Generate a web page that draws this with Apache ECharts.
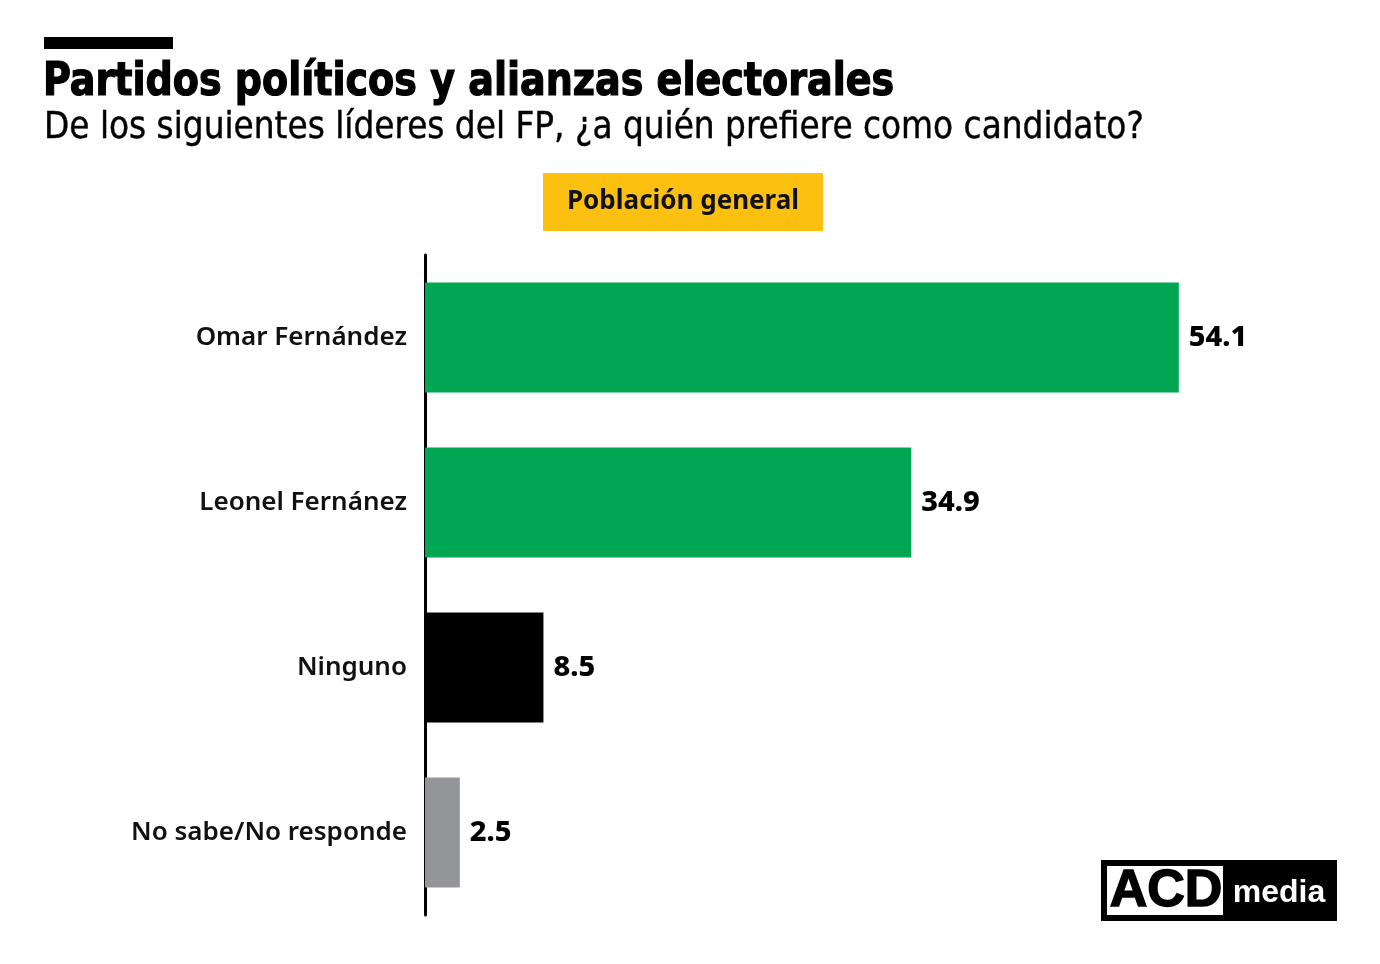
<!DOCTYPE html>
<html>
<head>
<meta charset="utf-8">
<script src="https://cdn.jsdelivr.net/npm/echarts@6/dist/echarts.min.js"></script>
<style>
  html, body { margin: 0; padding: 0; background: #fff; }
  #chart { width: 1380px; height: 964px; }
</style>
</head>
<body>
<div id="chart"></div>
<script>
// datos
var categorias = ['Omar Fernández', 'Leonel Fernánez', 'Ninguno', 'No sabe/No responde'];
var valores = [54.1, 34.9, 8.5, 2.5];
var colores = ['#00a651', '#00a651', '#000000', '#939598'];

var myChart = echarts.init(document.getElementById('chart'));
var fuente = '"Noto Sans", "Open Sans", sans-serif';
var condensada = '"DejaVu Sans Condensed", "DejaVu Sans", sans-serif';

var option = {
    backgroundColor: '#ffffff',
    animation: false,
    graphic: [
        // barra negra superior
        { type: 'rect', x: 44, y: 37, shape: { width: 129, height: 12 }, style: { fill: '#000' } },
        { type: 'text', x: 43, y: 60, scaleX: 0.92, style: {
            text: 'Partidos políticos y alianzas electorales',
            font: '900 46px ' + condensada, fill: '#000',
            stroke: '#000', lineWidth: 1.2,
            align: 'left', verticalAlign: 'top' } },
        { type: 'text', x: 44, y: 109, scaleX: 0.96, style: {
            text: 'De los siguientes líderes del FP, ¿a quién prefiere como candidato?',
            font: '400 38px ' + condensada, fill: '#000',
            stroke: '#000', lineWidth: 0.4,
            align: 'left', verticalAlign: 'top' } },
        // caja amarilla
        { type: 'rect', x: 543, y: 173, shape: { width: 280, height: 58 }, style: { fill: '#fcc010' } },
        { type: 'text', x: 683, y: 202, style: {
            text: 'Población general', font: '700 26px ' + fuente, fill: '#111',
            align: 'center', verticalAlign: 'middle' } },
        // logo
        { type: 'rect', x: 1101, y: 860, shape: { width: 236, height: 61 }, style: { fill: '#000' } },
        { type: 'rect', x: 1107, y: 866, shape: { width: 116, height: 49 }, style: { fill: '#fff' } },
        { type: 'text', x: 1166, y: 892, style: {
            text: 'ACD', font: '900 52px "Liberation Sans", Arial, sans-serif', fill: '#000',
            stroke: '#000', lineWidth: 1.5,
            align: 'center', verticalAlign: 'middle' } },
        { type: 'text', x: 1279, y: 893, style: {
            text: 'media', font: '700 32px "Liberation Sans", Arial, sans-serif', fill: '#fff',
            align: 'center', verticalAlign: 'middle' } }
    ],
    grid: { left: 425, right: 119, top: 255, bottom: 49 },
    xAxis: {
        type: 'value', min: 0, max: 60,
        show: false
    },
    yAxis: {
        type: 'category',
        inverse: true,
        data: categorias,
        axisLine: { show: true, lineStyle: { color: '#000', width: 3 } },
        axisTick: { show: false },
        axisLabel: {
            margin: 18,
            fontFamily: fuente, fontSize: 26, fontWeight: 600, color: '#111'
        }
    },
    series: [{
        type: 'bar',
        barWidth: 110,
        data: valores.map(function (v, i) {
            return { value: v, itemStyle: { color: colores[i] } };
        }),
        label: {
            show: true, position: 'right', distance: 10,
            fontFamily: fuente, fontSize: 29, fontWeight: 800, color: '#000'
        }
    }]
};
myChart.setOption(option);
</script>
</body>
</html>
